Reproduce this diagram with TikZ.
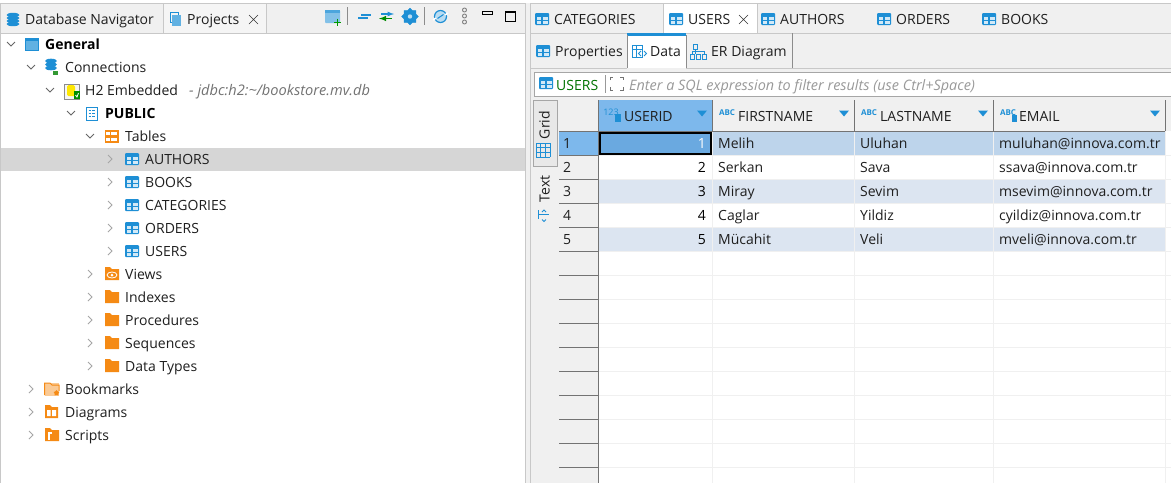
\documentclass[tikz,border=0pt]{standalone}
\usepackage{fontspec}
\setmainfont{Open Sans}
\usetikzlibrary{positioning, shapes.geometric}
\definecolor{panel}{HTML}{F0F0F0}
\definecolor{edge}{HTML}{C8C8C8}
\definecolor{iconblue}{HTML}{1E8FD5}
\definecolor{iconorange}{HTML}{F58A14}
\definecolor{rowone}{HTML}{BDD4EB}
\definecolor{rowalt}{HTML}{DCE5F1}
\definecolor{headsel}{HTML}{7DB8EC}
\definecolor{cellsel}{HTML}{6AA9E0}
\tikzset{label/.style={anchor=west, inner sep=0pt, font=\fontsize{14}{15}\selectfont, text=black!88, text height=12pt, text depth=2.7pt},
         strong/.style={label, font=\fontsize{14}{15}\selectfont\bfseries, text=black},
         cellnum/.style={label, anchor=east},
         chev/.style={draw=black!60, line width=0.9pt},
         chevoff/.style={draw=black!35, line width=1pt},
         grid/.style={draw=black!6, line width=0.8pt},
         headline/.style={draw=black!55, line width=0.8pt},
        }
% icons, all placed by their centre
\newcommand{\tableicon}[1]{\begin{scope}[shift={(#1)}]
    \fill[iconblue, rounded corners=1pt](-7,-6)rectangle(7,6);
    \fill[white!80!iconblue](-5.5,-2)rectangle(-0.6,1);
    \fill[white!80!iconblue](0.6,-2)rectangle(5.5,1);
    \fill[white!80!iconblue](-5.5,2)rectangle(-0.6,4.6);
    \fill[white!80!iconblue](0.6,2)rectangle(5.5,4.6);
\end{scope}}
\newcommand{\foldericon}[1]{\begin{scope}[shift={(#1)}]
    \fill[iconorange](-7,-7)--(-2,-7)--(0,-5)--(7,-5)--(7,6)--(-7,6)--cycle;
\end{scope}}
\newcommand{\open}[1]{\draw[chev](#1)++(-4,-2)--++(4,4)--++(4,-4);}
\newcommand{\closed}[1]{\draw[chevoff](#1)++(-2,-4)--++(4,4)--++(-4,4);}
\newcommand{\sorter}[1]{\fill[iconblue](#1)++(-5,-2.5)--++(10,0)--++(-5,6)--cycle;}
\newcommand{\abcicon}[1]{\node[inner sep=0pt, text=iconblue, font=\fontsize{8}{8}\selectfont\bfseries](abc#1)at(#1,113){ABC};}

\begin{document}
\begin{tikzpicture}[x=1pt,y=-1pt]
    \useasboundingbox(0,0)rectangle(1171,483);
    \fill[panel](0,0)rectangle(1171,483);
    \fill[white](0,0)rectangle(1171,3);
    % navigator panel
    \fill[white](1,33)rectangle(525,483);
    \draw[edge](0,3.5)--(525,3.5);
    \draw[edge](0,33)--(525,33);
    \draw[edge](0.5,3)--(0.5,483);
    \fill[black!4](163,4)rectangle(266,33);
    \draw[edge](163,4)--(163,33);
    \draw[edge](266,4)--(266,33);
    \fill[black!16](1,148)rectangle(525,171);
    \draw[edge](525.5,3)--(525.5,483);
    \begin{scope}[shift={(13,20)}]
        \foreach \yy in {-5,-2,1,4}{\fill[iconblue](0,\yy)ellipse(6.5 and 2.2);}
    \end{scope}
    \node[label](navtab)at(25,20){Database Navigator};
    \draw[iconblue, line width=1pt](170,12)rectangle(178,22);
    \fill[iconblue!70](172,15)rectangle(181,26);
    \node[label](projtab)at(187,20){Projects};
    \draw[black!80](249,15)--(258,24)(258,15)--(249,24);
    % toolbar
    \fill[iconblue!55, rounded corners=1pt](325,10)rectangle(340,23);
    \fill[iconblue!80](325,10)rectangle(340,12.5);
    \draw[green!60!black, line width=1pt](334,22)--(341,22)(337.5,18.5)--(337.5,25.5);
    \draw[black!45](347,7)--(347,25)(424,7)--(424,25);
    \draw[iconblue, line width=1.2pt](361,15)--(371,15)(358,18)--(368,18);
    \draw[iconblue, -latex, line width=1.2pt](381,14)--(394,14);
    \draw[green!55!black, -latex, line width=1.4pt](392,18.5)--(379,18.5);
    \node[draw=iconblue, fill=iconblue, star, star points=8, star point ratio=1.3, inner sep=4.5pt](gearico)at(410,16.5){};
    \fill[white!70!iconblue](410,16.5)circle(2.2);
    \draw[iconblue, line width=1.2pt, fill=iconblue!30](440.5,16.5)circle(6);
    \draw[white, line width=1.6pt](433,20)--(436,18)(445,15)--(448,13);
    \draw[iconblue, line width=1pt](437.5,18.5)--(443.5,14.5);
    \foreach \yy in {10,16,22}{\draw[black!50, line width=0.9pt](464.5,\yy)circle(2);}
    \draw[black, line width=0.9pt](482,11)rectangle(492,14);
    \draw[black, line width=0.9pt](505,11)rectangle(515,21);
    \draw[black, line width=1.4pt](505,12.5)--(515,12.5);
    % tree
    \open{11,44}
    \fill[iconblue!70](25,38)rectangle(38,50);
    \draw[iconblue, line width=1pt](25.5,38.5)rectangle(38,50);
    \fill[iconblue](25,38)rectangle(38,41);
    \node[strong](general)at(45,44.5){General};
    \open{31,67}
    \foreach \yy in {-6,-2.5,1}{\fill[iconblue](51,67+\yy)ellipse(6 and 2.3);}
    \fill[green!50!black!80](53,71)rectangle(58,75);
    \node[label](connections)at(65,67.5){Connections};
    \open{50,90}
    \draw[black!45, fill=black!4](64,84)rectangle(79,99);
    \fill[yellow!90!orange, rounded corners=1.5pt](67,85)rectangle(75,96);
    \fill[green!55!black](74,91)rectangle(80,99);
    \draw[white, line width=0.8pt](75.5,95)--(77,97)--(78.5,93);
    \node[label](embedded)at(85,90.5){H2 Embedded};
    \node[label, font=\fontsize{14.6}{15}\selectfont\itshape, text=black!55](jdbc)at(189,90.5){- jdbc:h2:\textasciitilde/bookstore.mv.db};
    \open{71,113}
    \draw[iconblue, line width=0.9pt, fill=white](86,107)rectangle(97,120);
    \draw[iconblue, line width=0.8pt](88.5,110.5)--(90.5,110.5)(92,110.5)--(95,110.5)(88.5,113.5)--(90.5,113.5)(92,113.5)--(95,113.5)(88.5,116.5)--(90.5,116.5)(92,116.5)--(95,116.5);
    \node[strong](public)at(105,113.5){PUBLIC};
    \open{90,136}
    \draw[iconorange, line width=1.1pt, fill=white](105.5,131)rectangle(118,142);
    \fill[iconorange](105,135)rectangle(118.5,138);
    \draw[iconorange, line width=1pt](110,131)--(110,142);
    \node[label](tables)at(125,136.5){Tables};
    \foreach \nm/\txt/\yy in {authors/AUTHORS/159, books/BOOKS/182, categories/CATEGORIES/205, orders/ORDERS/228, users/USERS/251}{
        \closed{110,\yy}
        \tableicon{132,\yy}
        \node[label](\nm)at(145,\yy.5){\txt};
    }
    \foreach \nm/\txt/\yy in {indexes/Indexes/297, procedures/Procedures/320, sequences/Sequences/343, datatypes/Data Types/366}{
        \closed{90,\yy}
        \foldericon{112,\yy}
        \node[label](\nm)at(125,\yy.5){\txt};
    }
    \closed{90,274}
    \foldericon{112,274}
    \draw[white, line width=0.8pt](112,275)ellipse(5 and 3);
    \fill[white](112,275)circle(1.5);
    \node[label](views)at(125,274.5){Views};
    \closed{31,389}
    \fill[iconorange!45](45,383)rectangle(59,396);
    \draw[iconorange, line width=1pt](44.5,395)--(44.5,383)--(50,383)--(52,385)--(59,385)--(59,391);
    \node[star, fill=iconorange, inner sep=0pt, minimum size=6pt](bookstar)at(56.5,393){};
    \node[label](bookmarks)at(65,389.5){Bookmarks};
    \closed{31,412}
    \fill[iconorange](45,405)--(50,405)--(52,407)--(58,407)--(58,418)--(45,418)--cycle;
    \fill[white](47,410)rectangle(50.5,416)(52,410)rectangle(56,416);
    \node[label](diagrams)at(65,412.5){Diagrams};
    \closed{31,435}
    \fill[iconorange](45,428)--(50,428)--(52,430)--(59,430)--(59,441)--(45,441)--cycle;
    \fill[white](48,432)rectangle(52,440);
    \fill[iconorange](49.5,434)rectangle(52,440);
    \node[label](scripts)at(65,435.5){Scripts};
    % editor tabs
    \draw[edge](530,3.5)--(1171,3.5);
    \draw[edge](530,33)--(1171,33);
    \draw[edge](530.5,3)--(530.5,483);
    \fill[white](663,4)rectangle(757,33);
    \draw[edge](663,4)--(663,33)(757,4)--(757,33);
    \foreach \nm/\txt/\xx in {tabcat/CATEGORIES/542, tabusers/USERS/676, tabauthors/AUTHORS/768, taborders/ORDERS/884, tabbooks/BOOKS/989}{
        \tableicon{\xx,19}
        \node[label, right=12pt of {\xx,19.5}](\nm){\txt};
    }
    \draw[black!80](739,15)--(748,24)(748,15)--(739,24);
    % sub tabs
    \fill[white](627,34)rectangle(686,68);
    \fill[iconblue](627,33)rectangle(686,35.5);
    \draw[edge](530,68)--(627,68)(686,68)--(1171,68);
    \draw[black!45](627,35)--(627,68)(686,35)--(686,68)(792.5,33)--(792.5,68);
    \tableicon{543,51}
    \node[label](propstab)at(555,51.5){Properties};
    \draw[iconblue, line width=0.9pt](632,45)rectangle(642,57);
    \draw[iconblue, line width=0.8pt](632,49)--(642,49)(636,45)--(636,57);
    \draw[iconblue, line width=0.9pt](641,51)--(638.5,53.5)--(641,56)(644,51)--(646.5,53.5)--(644,56);
    \node[label](datatab)at(650,51.5){Data};
    \draw[iconblue, line width=0.9pt](693,44)rectangle(697,49)(690,54)rectangle(694,59)(696,54)rectangle(700,59)(702,54)rectangle(706,59)(695,49)--(695,54)(692,54)--(692,51.5)--(704,51.5)--(704,54);
    \node[label](ertab)at(711,51.5){ER Diagram};
    % filter bar
    \fill[white](534,72)rectangle(1171,96);
    \draw[black!35](534,72)rectangle(1172,96);
    \tableicon{546,83}
    \node[label, text=green!45!black](filterusers)at(556,85.5){USERS};
    \draw[black!40](605.5,75)--(605.5,93);
    \draw[black!55, line width=0.9pt](610,80)--(610,77)--(613,77)(620,77)--(623,77)--(623,80)(610,87)--(610,90)--(613,90)(620,90)--(623,90)--(623,87);
    \node[label, font=\fontsize{14.4}{15}\selectfont\itshape, text=black!40](filterhint)at(629,85.5){Enter a SQL expression to filter results (use Ctrl+Space)};
    % grid and text buttons
    \fill[black!9](533,100)rectangle(557,166);
    \draw[black!35](533,100)rectangle(557,166);
    \node[label, rotate=90, anchor=center](gridtab)at(545,125){Grid};
    \foreach \xx in {536,540.67,545.33,550}{\draw[iconblue, line width=0.8pt](\xx,143)--(\xx,157);}
    \foreach \yy in {143,147.67,152.33,157}{\draw[iconblue, line width=0.8pt](536,\yy)--(550,\yy);}
    \node[label, rotate=90, anchor=center](texttab)at(545,189){Text};
    \draw[iconblue, line width=0.9pt](538.5,210)--(538.5,219)(538.5,214.5)--(549,214.5);
    \draw[iconblue, line width=0.8pt](542,219.5)--(544,221.5)--(546,219.5)(542,212)--(544,210)--(546,212);
    % data grid
    \fill[white](598,131)rectangle(1171,483);
    \fill[rowone](712,131)rectangle(1165,155);
    \fill[rowalt](598,179)rectangle(1165,203);
    \fill[rowalt](598,227)rectangle(1165,251);
    \fill[headsel](598,100)rectangle(712,131);
    \fill[headsel](559,131)rectangle(598,155);
    \foreach \yy in {155,179,...,467}{
        \draw[grid](598,\yy)--(1171,\yy);
        \draw[headline](559,\yy)--(598,\yy);
    }
    \foreach \xx in {712,854,993,1165}{\draw[grid](\xx,131)--(\xx,483);}
    \draw[headline](598.5,100)--(598.5,483);
    \draw[headline](559,131)--(1165,131);
    \foreach \xx in {712,854,993,1165}{\draw[headline](\xx.5,100)--(\xx.5,131);}
    \fill[cellsel](600,133)rectangle(711,154);
    \draw[black, line width=1.6pt](600,133)rectangle(711,154);
    % header
    \node[inner sep=0pt, text=iconblue, font=\fontsize{9}{9}\selectfont](numico)at(611,112){123};
    \fill[iconblue](615,113.5)rectangle(621,122);
    \node[label](useridhd)at(624,117){USERID};
    \foreach \nm/\txt/\xx in {first/FIRSTNAME/738, last/LASTNAME/880, mail/EMAIL/1019}{
        \node[label](\nm hd)at(\xx,117){\txt};
    }
    \abcicon{727}
    \abcicon{869}
    \abcicon{1008}
    \fill[iconblue](1012,115)rectangle(1017,122);
    \foreach \xx in {702,844,983,1155}{\sorter{\xx,113}}
    % rows
    \foreach \rr/\idcol/\first/\last/\mail/\yy in {1/white/Melih/Uluhan/muluhan/143, 2/black/Serkan/Sava/ssava/167, 3/black/Miray/Sevim/msevim/191, 4/black/Caglar/Yildiz/cyildiz/215, 5/black/Mücahit/Veli/mveli/239}{
        \node[label](rowhd\rr)at(563,\yy.5){\rr};
        \node[cellnum, text=\idcol](id\rr)at(706,\yy.5){\rr};
        \node[label](first\rr)at(718,\yy.5){\first};
        \node[label](last\rr)at(860,\yy.5){\last};
        \node[label](mail\rr)at(999,\yy.5){\mail @innova.com.tr};
    }
\end{tikzpicture}
\end{document}
